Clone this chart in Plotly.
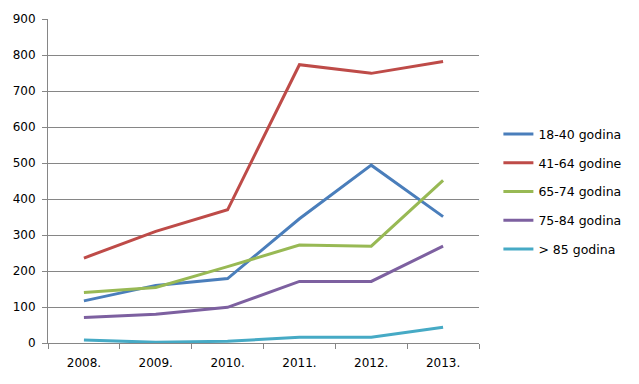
import plotly.graph_objects as go

years = ["2008.", "2009.", "2010.", "2011.", "2012.", "2013."]
series_names = ["18-40 godina", "41-64 godine", "65-74 godina", "75-84 godina", "> 85 godina"]
s18_40 = [117, 160, 179, 345, 494, 351]
s41_64 = [236, 310, 370, 773, 749, 782]
s65_74 = [140, 154, 212, 272, 269, 452]
s75_84 = [71, 80, 99, 171, 171, 269]
s85 = [8, 2, 5, 16, 16, 44]
colors = ["#4A7EBB", "#BE4B48", "#98B954", "#7D60A0", "#46AAC5"]
y_ticks = [0, 100, 200, 300, 400, 500, 600, 700, 800, 900]

fig = go.Figure()
for i, (name, vals, c) in enumerate(zip(series_names, [s18_40, s41_64, s65_74, s75_84, s85], colors)):
    fig.add_trace(go.Scatter(x=years, y=vals, mode="lines", name=name, legendgroup=f"g{i}",
                             line=dict(color=c, width=3)))

fig.update_layout(
    width=639, height=384,
    margin=dict(l=48, r=160, t=16, b=41),
    paper_bgcolor="white", plot_bgcolor="white",
    font=dict(family="DejaVu Sans", size=12, color="#000000"),
    legend=dict(x=1.045, y=0.69, xanchor="left", yanchor="top",
                font=dict(size=12.5), tracegroupgap=9.5, itemwidth=30,
                bgcolor="rgba(0,0,0,0)"),
    showlegend=True,
)
fig.update_xaxes(type="category", showline=True, linecolor="#868686", linewidth=1,
                 ticks="outside", tickson="boundaries", ticklen=5, tickcolor="#868686",
                 showgrid=False, range=[-0.5, 5.5], ticklabelstandoff=9)
fig.update_yaxes(range=[0, 900], tickvals=y_ticks, showline=True, linecolor="#868686",
                 linewidth=1, ticks="outside", ticklen=5, tickcolor="#868686",
                 showgrid=True, gridcolor="#868686", gridwidth=1, zeroline=False,
                 ticklabelstandoff=4)

fig.write_html("out.html", post_script="document.body.style.margin='0';",
               config={"displayModeBar": False})
